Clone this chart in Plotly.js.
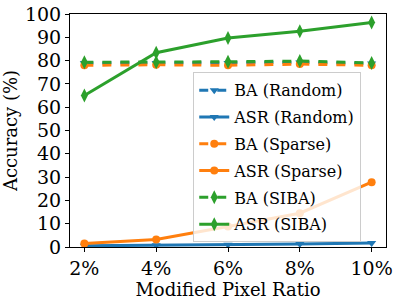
<!DOCTYPE html>
<html><head><meta charset="utf-8">
<script src="https://cdn.plot.ly/plotly-3.0.1.min.js"></script>
<style>html,body{margin:0;padding:0;background:#fff;}#chart{width:398px;height:303px;}</style>
</head><body><div id="chart"></div>
<script>
const ratios = [2, 4, 6, 8, 10];
const tickLabels = ["2%", "4%", "6%", "8%", "10%"];
const baRandom = [79.0, 79.0, 79.0, 79.2, 78.8];
const asrRandom = [0.5, 0.7, 1.0, 1.3, 1.7];
const baSparse = [78.0, 78.2, 78.0, 78.5, 78.0];
const asrSparse = [1.5, 3.2, 8.8, 14.5, 27.8];
const baSIBA = [79.3, 79.3, 79.5, 79.8, 79.0];
const asrSIBA = [65.0, 83.4, 89.7, 92.6, 96.4];

const blue = "#1f77b4", orange = "#ff7f0e", green = "#2ca02c";
function tr(name, y, color, dash, symbol) {
  return {x: ratios, y: y, name: name, mode: "lines+markers", legendgroup: name,
    line: {color: color, width: 3, dash: dash},
    marker: {color: color, size: symbol === "diamond-tall" ? 10 : 8, symbol: symbol}};
}
const data = [
  tr("BA (Random)", baRandom, blue, "dash", "triangle-down"),
  tr("ASR (Random)", asrRandom, blue, "solid", "triangle-down"),
  tr("BA (Sparse)", baSparse, orange, "dash", "circle"),
  tr("ASR (Sparse)", asrSparse, orange, "solid", "circle"),
  tr("BA (SIBA)", baSIBA, green, "dash", "diamond-tall"),
  tr("ASR (SIBA)", asrSIBA, green, "solid", "diamond-tall")
];
const ff = "DejaVu Serif, Liberation Serif, serif";
const layout = {
  width: 398, height: 303,
  margin: {l: 70, r: 12, t: 14, b: 56},
  paper_bgcolor: "#fff", plot_bgcolor: "#fff",
  font: {family: ff, color: "#000"},
  showlegend: true,
  legend: {x: 0.39, y: 0.75, xanchor: "left", yanchor: "top",
    bgcolor: "rgba(255,255,255,0.8)", bordercolor: "#ccc", borderwidth: 1,
    font: {family: ff, size: 16, color: "#000"}, tracegroupgap: 3},
  xaxis: {range: [1.6, 10.4], tickvals: ratios, ticktext: tickLabels,
    showgrid: false, zeroline: false, showline: true, mirror: true,
    linecolor: "#000", linewidth: 1, ticks: "outside", ticklen: 4, tickcolor: "#000",
    tickfont: {family: ff, size: 19, color: "#000"},
    title: {text: "Modified Pixel Ratio", font: {family: ff, size: 18, color: "#000"}, standoff: 0}},
  yaxis: {range: [0, 100], dtick: 10,
    showgrid: false, zeroline: false, showline: true, mirror: true,
    linecolor: "#000", linewidth: 1, ticks: "outside", ticklen: 4, tickcolor: "#000",
    tickfont: {family: ff, size: 19, color: "#000"},
    title: {text: "Accuracy (%)", font: {family: ff, size: 18, color: "#000"}, standoff: 4}}
};
Plotly.newPlot("chart", data, layout, {displayModeBar: false, staticPlot: true});
</script></body></html>
